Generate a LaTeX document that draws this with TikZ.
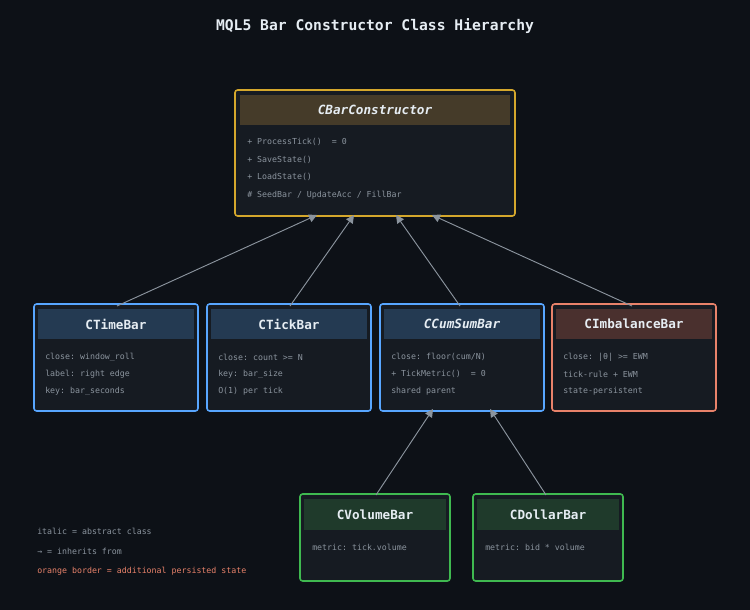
\documentclass[tikz,border=0pt]{standalone}
\usepackage{fontspec}
\setmonofont{DejaVu Sans Mono}
\usetikzlibrary{arrows.meta}
\definecolor{bg}{HTML}{0D1117}
\definecolor{boxfill}{HTML}{161B22}
\definecolor{txt}{HTML}{E6EDF3}
\definecolor{muted}{HTML}{8B949E}
\definecolor{gold}{HTML}{D4A72C}
\definecolor{goldhd}{HTML}{453B29}
\definecolor{blue}{HTML}{58A6FF}
\definecolor{bluehd}{HTML}{243A52}
\definecolor{orng}{HTML}{E8826A}
\definecolor{orngfont}{HTML}{E8826A}
\definecolor{orghd}{HTML}{4A302E}
\definecolor{grn}{HTML}{3FB950}
\definecolor{grnhd}{HTML}{1F3A2B}
\tikzset{
  cls/.style={draw=#1, line width=1.2pt, fill=boxfill, rounded corners=2pt},
  hdr/.style={fill=#1, text=txt, font=\ttfamily\bfseries\fontsize{9.5}{11}\selectfont, inner sep=0pt},
  body/.style={text=muted, font=\ttfamily\fontsize{6.2}{7}\selectfont, anchor=west, inner sep=0pt},
  inherit/.style={draw=muted, line width=0.7pt, -{Triangle[length=6pt,width=6pt]}},
}
\begin{document}
\begin{tikzpicture}[x=0.75pt,y=-0.75pt]
\fill[bg] (0,0) rectangle (750,610);
\node[text=txt, font=\ttfamily\bfseries\fontsize{11}{13}\selectfont] (title) at (375,26) {MQL5 Bar Constructor Class Hierarchy};
% base class
\draw[cls=gold] (235,90) rectangle (515,216);
\node[hdr=goldhd, minimum width=202.5pt, minimum height=22.5pt] (ctor) at (375,110) {\itshape CBarConstructor};
\node[body] (c1) at (247,142) {+ ProcessTick()~ = 0};
\node[body] (c2) at (247,160) {+ SaveState()};
\node[body] (c3) at (247,177) {+ LoadState()};
\node[body] (c4) at (247,195) {\# SeedBar / UpdateAcc / FillBar};
% second row
\foreach \name/\x/\col/\hd/\title/\la/\lb/\lc in {
  time/34/blue/bluehd/{CTimeBar}/{close: window\_roll}/{label: right edge}/{key: bar\_seconds},
  tick/207/blue/bluehd/{CTickBar}/{close: count >= N}/{key: bar\_size}/{O(1) per tick},
  cum/380/blue/bluehd/{\itshape CCumSumBar}/{close: floor(cum/N)}/{+ TickMetric()~ = 0}/{shared parent},
  imb/552/orng/orghd/{CImbalanceBar}/{close: |θ| >= EWM}/{tick-rule + EWM}/{state-persistent}}{
  \draw[cls=\col] (\x,304) rectangle ++(164,107);
  \node[hdr=\hd, minimum width=117pt, minimum height=22.5pt] (\name) at (\x+82,324) {\title};
  \node[body] at (\x+11,357) {\la};
  \node[body] at (\x+11,374) {\lb};
  \node[body] at (\x+11,391) {\lc};
}
% third row
\foreach \name/\x/\title/\la in {
  vol/300/{CVolumeBar}/{metric: tick.volume},
  dol/473/{CDollarBar}/{metric: bid * volume}}{
  \draw[cls=grn] (\x,494) rectangle ++(150,87);
  \node[hdr=grnhd, minimum width=106.5pt, minimum height=23pt] (\name) at (\x+75,514.5) {\title};
  \node[body] at (\x+12,547) {\la};
}
% connector ends
\coordinate (t1) at (317,215);
\coordinate (t2) at (354,215);
\coordinate (t3) at (396,215);
\coordinate (t4) at (432,215);
\coordinate (s1) at (117,306);
\coordinate (s2) at (290,306);
\coordinate (s3) at (460,306);
\coordinate (s4) at (632,306);
\coordinate (u1) at (433,409);
\coordinate (u2) at (490,409);
\coordinate (v1) at (376,495);
\coordinate (v2) at (546,495);
\draw[inherit] (s1) -- (t1);
\draw[inherit] (s2) -- (t2);
\draw[inherit] (s3) -- (t3);
\draw[inherit] (s4) -- (t4);
\draw[inherit] (v1) -- (u1);
\draw[inherit] (v2) -- (u2);
% legend
\node[body] (l1) at (37,531) {italic = abstract class};
\node[body] (l2) at (37,551) {→ = inherits from};
\node[body, text=orngfont] (l3) at (37,571) {orange border = additional persisted state};
\end{tikzpicture}
\end{document}
